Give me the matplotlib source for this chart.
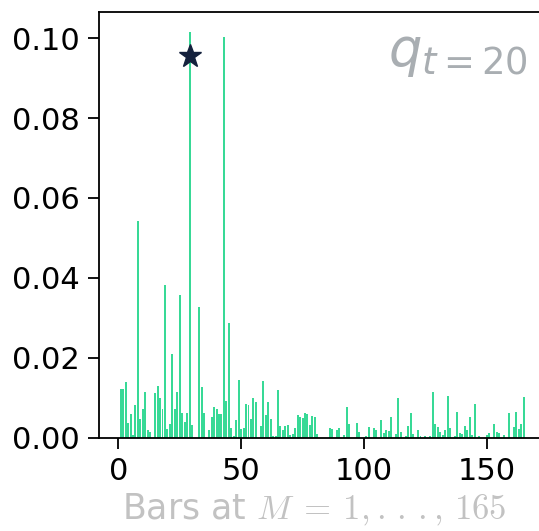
import numpy as np
import matplotlib
matplotlib.use("Agg")
import matplotlib.pyplot as plt

plt.rcParams['mathtext.fontset'] = 'cm'

M = np.arange(1, 166)
values = [
    0.0121, 0.0121, 0.0138, 0.0036, 0.0058, 0.0006, 0.0081, 0.0543, 0.0046, 0.0071,
    0.0113, 0.0018, 0.0013, 0.0, 0.0111, 0.0128, 0.0098, 0.0071, 0.0383, 0.0021,
    0.0033, 0.0208, 0.0071, 0.0113, 0.0356, 0.0061, 0.0038, 0.0061, 0.1015, 0.0031,
    0.0, 0.0, 0.0328, 0.0126, 0.0061, 0.0, 0.0018, 0.0051, 0.0076, 0.0071,
    0.0058, 0.0058, 0.1002, 0.0091, 0.0288, 0.0023, 0.0003, 0.0043, 0.0143, 0.0021,
    0.0023, 0.0083, 0.0081, 0.0046, 0.0098, 0.0088, 0.0, 0.0028, 0.0141, 0.0056,
    0.0088, 0.0046, 0.0003, 0.0003, 0.0118, 0.0028, 0.0018, 0.0028, 0.0031, 0.0006,
    0.0008, 0.0023, 0.0056, 0.0051, 0.0048, 0.0061, 0.0058, 0.0031, 0.0053, 0.0051,
    0.0008, 0.0, 0.0, 0.0, 0.0, 0.0023, 0.0021, 0.0, 0.0018, 0.0023,
    0.0, 0.0006, 0.0076, 0.0033, 0.0, 0.0, 0.0036, 0.0013, 0.0, 0.0,
    0.0003, 0.0026, 0.0, 0.0023, 0.0018, 0.0, 0.0043, 0.0011, 0.0018, 0.0016,
    0.0051, 0.0, 0.0008, 0.0098, 0.0013, 0.0, 0.0003, 0.0028, 0.0061, 0.0008,
    0.0, 0.0018, 0.0003, 0.0, 0.0003, 0.0, 0.0003, 0.0113, 0.0033, 0.0026,
    0.0013, 0.0006, 0.0018, 0.0103, 0.0023, 0.0, 0.0003, 0.0063, 0.0011, 0.0008,
    0.0028, 0.0018, 0.0051, 0.0006, 0.0083, 0.0, 0.0003, 0.0, 0.0, 0.0006,
    0.0011, 0.0, 0.0033, 0.0013, 0.0011, 0.0, 0.0006, 0.0, 0.0061, 0.0,
    0.0026, 0.0063, 0.0021, 0.0033, 0.0101,
]
star_M = 29
star_val = 0.0955
xlabel = r"Bars at $M\:=\:1,.\,.\,.,\,165$"
title = r"$q_{t=20}$"

fig = plt.figure(figsize=(5.39, 5.31), dpi=100)
ax = fig.add_axes([0.1846, 0.176, 1.011 - 0.1846, 0.9774 - 0.176])

ax.bar(M, values, width=0.8, color='#38d996')
ax.plot([star_M], [star_val], marker='*', markersize=17, color='#14213d', linestyle='none')

ax.set_xticks([0, 50, 100, 150])
ax.set_yticks([0.0, 0.02, 0.04, 0.06, 0.08, 0.10])
ax.set_yticklabels(['0.00', '0.02', '0.04', '0.06', '0.08', '0.10'])
ax.tick_params(labelsize=22, length=8, width=1.3, pad=6)
for s in ax.spines.values():
    s.set_linewidth(1.3)

ax.set_xlabel(xlabel, fontsize=25, color='#c2c2c2', labelpad=4)
ax.xaxis.label.set_x(0.482)
ax.text(0.962, 0.965, title, transform=ax.transAxes, ha='right', va='top',
        fontsize=38, color='#a9aeb2', math_fontfamily='dejavusans')

fig.savefig('out.png', dpi=100)
